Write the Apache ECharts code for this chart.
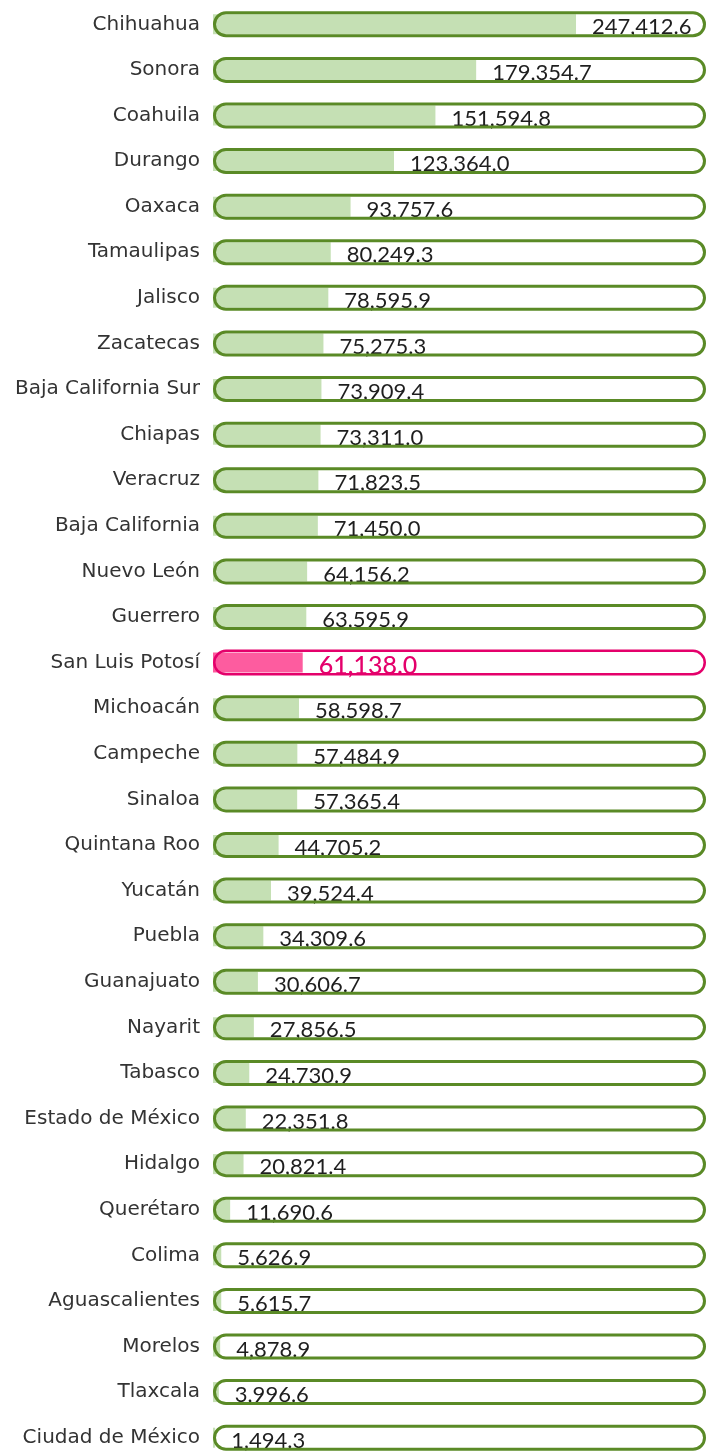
<!DOCTYPE html>
<html>
<head>
<meta charset="utf-8">
<title>Superficie por entidad</title>
<script src="https://cdn.jsdelivr.net/npm/echarts@6/dist/echarts.min.js"></script>
<style>
  html, body { margin: 0; padding: 0; background: #fff; }
  #chart { width: 707px; height: 1453px; }
</style>
</head>
<body>
<div id="chart"></div>
<script>
// datos del gráfico
const estados = [
  'Chihuahua', 'Sonora', 'Coahuila', 'Durango', 'Oaxaca', 'Tamaulipas', 'Jalisco',
  'Zacatecas', 'Baja California Sur', 'Chiapas', 'Veracruz', 'Baja California',
  'Nuevo León', 'Guerrero', 'San Luis Potosí', 'Michoacán', 'Campeche', 'Sinaloa',
  'Quintana Roo', 'Yucatán', 'Puebla', 'Guanajuato', 'Nayarit', 'Tabasco',
  'Estado de México', 'Hidalgo', 'Querétaro', 'Colima', 'Aguascalientes', 'Morelos',
  'Tlaxcala', 'Ciudad de México'
]
const superficie = [
  247412.6, 179354.7, 151594.8, 123364.0, 93757.6, 80249.3, 78595.9,
  75275.3, 73909.4, 73311.0, 71823.5, 71450.0,
  64156.2, 63595.9, 61138.0, 58598.7, 57484.9, 57365.4,
  44705.2, 39524.4, 34309.6, 30606.7, 27856.5, 24730.9,
  22351.8, 20821.4, 11690.6, 5626.9, 5615.7, 4878.9,
  3996.6, 1494.3
]
const destacado = 'San Luis Potosí'
const maximo = 336000

const fmt = v => v.toLocaleString('en-US', { minimumFractionDigits: 1, maximumFractionDigits: 1 })

const chart = echarts.init(document.getElementById('chart'))

// barras de valor
const barras = superficie.map((v, i) => {
  if (estados[i] !== destacado) return v
  return {
    value: v,
    itemStyle: { color: '#fd5c9f' },
    label: { color: '#e4006b', fontSize: 25, fontWeight: 500, offset: [0, 3] }
  }
})

// contornos tipo cápsula
const capsulas = estados.map(e => {
  if (e !== destacado) return maximo
  return { value: maximo, itemStyle: { borderColor: '#e4006b', borderWidth: 2.5 } }
})

const option = {
  animation: false,
  grid: { left: 213, right: 1, top: 1.5, height: 1459, outerBoundsMode: 'none' },
  xAxis: { type: 'value', min: 0, max: maximo, show: false },
  yAxis: [
    {
      type: 'category',
      data: estados,
      inverse: true,
      axisLine: { show: false },
      axisTick: { show: false },
      splitLine: { show: false },
      axisLabel: {
        margin: 13,
        color: '#333',
        fontSize: 20,
        fontFamily: 'DejaVu Sans'
      }
    },
    { type: 'category', data: estados, inverse: true, show: false }
  ],
  series: [
    {
      type: 'bar',
      yAxisIndex: 0,
      data: barras,
      barWidth: 20,
      itemStyle: { color: '#c5e0b4' },
      label: {
        show: true,
        position: 'right',
        distance: 16,
        offset: [0, 3],
        color: '#1e1e1e',
        fontSize: 22,
        fontFamily: 'Lato',
        formatter: p => fmt(p.value)
      },
      z: 2
    },
    {
      type: 'bar',
      yAxisIndex: 1,
      data: capsulas,
      barWidth: 26,
      silent: true,
      itemStyle: {
        color: 'rgba(0,0,0,0)',
        borderColor: '#5a8a26',
        borderWidth: 3,
        borderRadius: 13
      },
      z: 3
    }
  ]
}

chart.setOption(option)
</script>
</body>
</html>
